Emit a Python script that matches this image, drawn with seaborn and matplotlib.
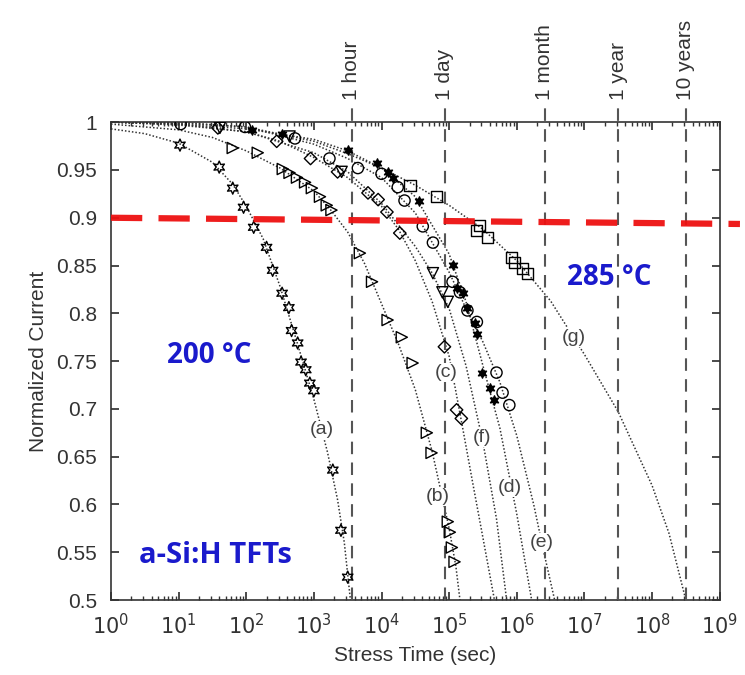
import numpy as np
import pandas as pd
import seaborn as sns
import matplotlib.pyplot as plt

# measured points, log10(time in s) and normalized current
a_logt = [1.02, 1.60, 1.80, 1.96, 2.11, 2.30, 2.39, 2.53, 2.63, 2.67, 2.76, 2.81, 2.88, 2.94, 3.00, 3.28, 3.40, 3.50]
a_cur = [0.976, 0.953, 0.931, 0.911, 0.890, 0.869, 0.845, 0.821, 0.806, 0.782, 0.769, 0.749, 0.741, 0.727, 0.719, 0.636, 0.573, 0.524]
b_logt = [1.80, 2.17, 2.54, 2.64, 2.75, 2.87, 2.97, 3.09, 3.19, 3.26, 3.68, 3.86, 4.09, 4.30, 4.46, 4.67, 4.74, 4.98, 5.01, 5.04, 5.08]
b_cur = [0.973, 0.968, 0.951, 0.947, 0.942, 0.937, 0.931, 0.922, 0.913, 0.908, 0.863, 0.833, 0.793, 0.775, 0.748, 0.675, 0.654, 0.582, 0.571, 0.555, 0.540]
c_logt = [1.58, 2.45, 2.95, 3.35, 3.80, 3.95, 4.08, 4.27, 4.93, 5.11, 5.18]
c_cur = [0.994, 0.980, 0.962, 0.948, 0.926, 0.919, 0.906, 0.884, 0.765, 0.699, 0.690]
d_logt = [2.08, 2.53, 3.50, 3.94, 4.09, 4.17, 4.56, 5.05, 5.11, 5.20, 5.27, 5.38, 5.41, 5.49, 5.60, 5.67]
d_cur = [0.992, 0.988, 0.971, 0.957, 0.948, 0.942, 0.918, 0.851, 0.827, 0.821, 0.806, 0.790, 0.778, 0.738, 0.722, 0.709]
e_logt = [1.03, 1.98, 2.72, 3.23, 3.65, 4.00, 4.24, 4.34, 4.61, 4.76, 5.05, 5.16, 5.27, 5.41, 5.70, 5.79, 5.89]
e_cur = [0.998, 0.995, 0.983, 0.962, 0.952, 0.946, 0.932, 0.918, 0.891, 0.874, 0.833, 0.822, 0.803, 0.791, 0.738, 0.717, 0.704]
f_logt = [1.61, 2.64, 3.41, 4.76, 4.90, 4.98]
f_cur = [0.994, 0.985, 0.948, 0.842, 0.822, 0.812]
g_logt = [4.42, 4.81, 5.40, 5.45, 5.57, 5.92, 5.97, 6.09, 6.16]
g_cur = [0.934, 0.922, 0.887, 0.892, 0.879, 0.858, 0.853, 0.847, 0.842]

# fitted curves
fa_logt = [0, 0.5, 1.0, 1.5, 1.8, 2.0, 2.25, 2.5, 2.75, 3.0, 3.2, 3.35, 3.45, 3.54]
fa_cur = [0.993, 0.988, 0.978, 0.958, 0.935, 0.912, 0.878, 0.828, 0.770, 0.710, 0.655, 0.605, 0.560, 0.5]
fb_logt = [0, 1, 1.5, 2, 2.5, 3, 3.25, 3.5, 3.75, 4, 4.25, 4.5, 4.75, 5, 5.1, 5.16]
fb_cur = [0.998, 0.992, 0.984, 0.970, 0.952, 0.928, 0.908, 0.885, 0.852, 0.810, 0.768, 0.720, 0.655, 0.575, 0.535, 0.5]
fc_logt = [0, 1, 2, 2.5, 3, 3.5, 4, 4.25, 4.5, 4.75, 5, 5.1, 5.2, 5.35, 5.5, 5.67]
fc_cur = [1.0, 0.997, 0.990, 0.980, 0.963, 0.942, 0.912, 0.888, 0.855, 0.812, 0.755, 0.718, 0.680, 0.622, 0.565, 0.5]
fd_logt = [0, 1, 2, 3, 3.5, 4, 4.5, 5, 5.25, 5.5, 5.75, 6, 6.22]
fd_cur = [1.0, 0.998, 0.993, 0.982, 0.970, 0.952, 0.922, 0.862, 0.812, 0.745, 0.680, 0.590, 0.5]
fe_logt = [0, 1, 2, 3, 3.5, 4, 4.5, 5, 5.25, 5.5, 5.75, 6, 6.25, 6.4, 6.56]
fe_cur = [1.0, 0.999, 0.995, 0.977, 0.962, 0.942, 0.905, 0.843, 0.805, 0.770, 0.728, 0.672, 0.600, 0.550, 0.5]
ff_logt = [0, 1, 2, 3, 3.5, 4, 4.5, 4.75, 5, 5.25, 5.5, 5.7, 5.85]
ff_cur = [1.0, 0.998, 0.990, 0.968, 0.948, 0.915, 0.870, 0.842, 0.805, 0.745, 0.665, 0.585, 0.5]
fg_logt = [0, 1, 2, 3, 3.5, 4, 4.5, 5, 5.5, 6, 6.5, 7, 7.5, 8, 8.25, 8.5]
fg_cur = [1.0, 1.0, 0.995, 0.980, 0.967, 0.952, 0.934, 0.913, 0.888, 0.855, 0.813, 0.757, 0.697, 0.620, 0.570, 0.5]

# curve labels (position in log time / current)
lab_names = ["(a)", "(b)", "(c)", "(d)", "(e)", "(f)", "(g)"]
lab_logt = [3.12, 4.83, 4.96, 5.89, 6.37, 5.49, 6.85]
lab_cur = [0.678, 0.608, 0.738, 0.618, 0.560, 0.670, 0.775]

# time marks
mark_names = ["1 hour", "1 day", "1 month", "1 year", "10 years"]
mark_sec = [3600, 86400, 2.6e6, 3.15e7, 3.15e8]

# red 90% line
red_logt = [0, 9.3]
red_cur = [0.9, 0.8935]

sns.set_theme(style="ticks")
plt.rcParams['font.family'] = ['Liberation Sans', 'DejaVu Sans']

fig = plt.figure(figsize=(7.45, 6.75), dpi=100)
ax = fig.add_axes([0.149, 0.111, 0.817, 0.708])
ax.set_xscale('log')

line_kw = dict(color='#333333', lw=1.1, linestyle=(0, (1, 1.3)))
for lt, cu in [(fa_logt, fa_cur), (fb_logt, fb_cur), (fc_logt, fc_cur), (fd_logt, fd_cur),
               (fe_logt, fe_cur), (ff_logt, ff_cur), (fg_logt, fg_cur)]:
    df = pd.DataFrame({'t': 10 ** np.array(lt), 'I': cu})
    sns.lineplot(data=df, x='t', y='I', ax=ax, sort=False, **line_kw)

series = [
    (a_logt, a_cur, (6, 1, 0), 75, 'none'),
    (b_logt, b_cur, '>', 65, 'none'),
    (c_logt, c_cur, 'D', 40, 'none'),
    (f_logt, f_cur, 'v', 65, 'none'),
    (e_logt, e_cur, 'o', 65, 'none'),
    (g_logt, g_cur, 's', 65, 'none'),
    (d_logt, d_cur, (6, 1, 0), 45, 'black'),
]
for lt, cu, m, s, fc in series:
    df = pd.DataFrame({'t': 10 ** np.array(lt), 'I': cu})
    sns.scatterplot(data=df, x='t', y='I', ax=ax, marker=m, s=s,
                    facecolor=fc, edgecolor='black', linewidth=1.0, zorder=4)

for name, lt, cu in zip(lab_names, lab_logt, lab_cur):
    ax.text(10 ** lt, cu, name, ha='center', va='center', fontsize=14, color='#444444',
            bbox=dict(facecolor='white', edgecolor='none', pad=0.5), zorder=5)

for name, sec in zip(mark_names, mark_sec):
    ax.axvline(sec, ymin=0, ymax=1.04, color='#555555', lw=1.5, dashes=(6, 4), clip_on=False, zorder=3)
    ax.text(sec, 1.046, name, transform=ax.get_xaxis_transform(), rotation=90,
            ha='center', va='bottom', fontsize=15, color='#333333')

ax.plot(10 ** np.array(red_logt), red_cur, color='#ee1111', lw=4.5, dashes=(5, 2.6),
        clip_on=False, zorder=6, alpha=0.95)

blue = '#1a1acc'
ax.text(10 ** 1.46, 0.756, "200 °C", ha='center', va='center', fontsize=20,
        fontweight='bold', color=blue, family=['Open Sans', 'DejaVu Sans'])
ax.text(10 ** 7.37, 0.837, "285 °C", ha='center', va='center', fontsize=20,
        fontweight='bold', color=blue, family=['Open Sans', 'DejaVu Sans'])
ax.text(10 ** 1.54, 0.547, "a-Si:H TFTs", ha='center', va='center', fontsize=21,
        fontweight='bold', color=blue, family=['Open Sans', 'DejaVu Sans'])

ax.set_xlim(1, 1e9)
ax.set_ylim(0.5, 1.0)
ax.set_xticks([10 ** k for k in range(10)])
ax.set_xticklabels([f"$10^{{{k}}}$" for k in range(10)])
ax.set_yticks(np.arange(0.5, 1.001, 0.05))
ax.set_yticklabels(["0.5", "0.55", "0.6", "0.65", "0.7", "0.75", "0.8", "0.85", "0.9", "0.95", "1"])
ax.tick_params(which='both', direction='in', top=True, right=True, colors='#333333',
               labelsize=15, labelcolor='#333333')
ax.tick_params(axis='x', which='major', pad=9)
ax.tick_params(axis='y', which='major', pad=10)
ax.tick_params(which='major', length=6)
ax.tick_params(which='minor', length=3)
for sp in ax.spines.values():
    sp.set_color('#333333')
    sp.set_linewidth(1.2)
ax.set_xlabel("Stress Time (sec)", fontsize=15, color='#333333', labelpad=6)
ax.set_ylabel("Normalized Current", fontsize=15, color='#333333', labelpad=6)

fig.savefig("out.png", dpi=100)
